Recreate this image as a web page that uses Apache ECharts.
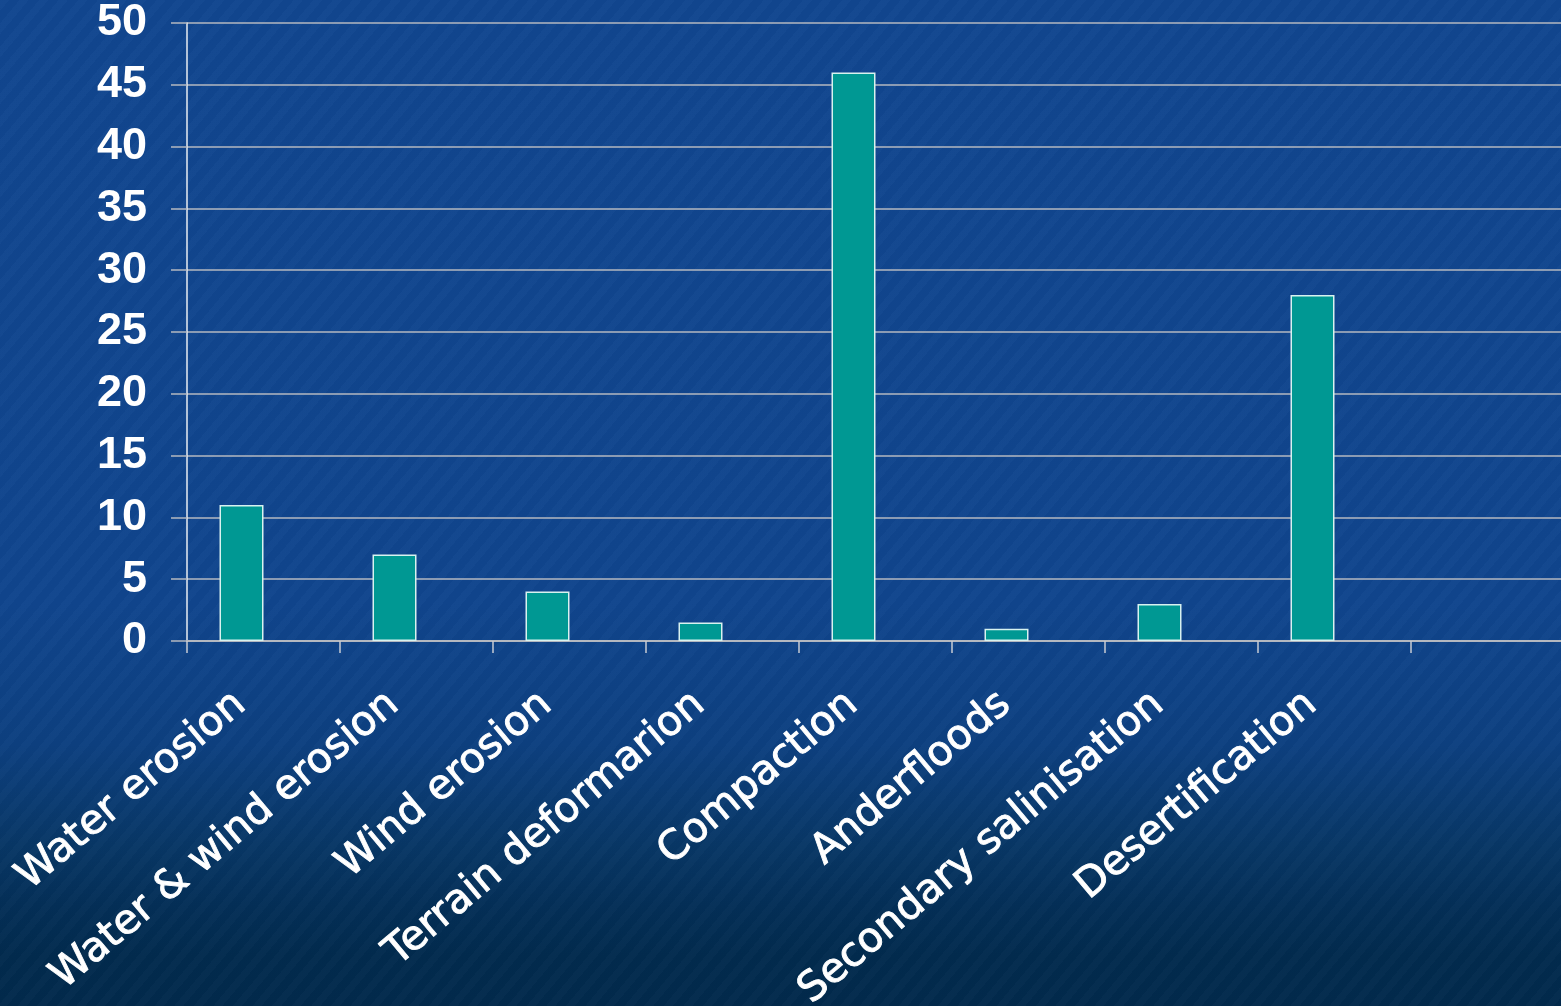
<!DOCTYPE html>
<html>
<head>
<meta charset="utf-8">
<script src="https://cdn.jsdelivr.net/npm/echarts@6/dist/echarts.min.js"></script>
<style>
  html, body { margin: 0; padding: 0; width: 1561px; height: 1006px; overflow: hidden; }
  body {
    background:
      repeating-linear-gradient(130deg, rgba(255,255,255,0.015) 0px, rgba(255,255,255,0.015) 7px, rgba(0,0,0,0.015) 7px, rgba(0,0,0,0.015) 15px),
      linear-gradient(to bottom, #11468f 0%, #10458d 60%, #0d4080 74%, #083766 84%, #042f57 90%, #022b4e 95%, #022a4c 100%);
  }
  #chart { width: 1561px; height: 1006px; }
</style>
</head>
<body>
<div id="chart"></div>
<script>
// Soil degradation types and their shares
const categories = [
  'Water erosion', 'Water & wind erosion', 'Wind erosion', 'Terrain deformarion',
  'Compaction', 'Anderfloods', 'Secondary salinisation', 'Desertification', ''
];
const values = [11, 7, 4, 1.5, 46, 1, 3, 28, null];
const yTicks = [0, 5, 10, 15, 20, 25, 30, 35, 40, 45, 50];

const chart = echarts.init(document.getElementById('chart'), null, { renderer: 'canvas' });

chart.setOption({
  backgroundColor: 'transparent',
  animation: false,
  grid: { left: 187, right: -3, top: 23, bottom: 365, containLabel: false, outerBoundsMode: 'none' },
  xAxis: {
    type: 'category',
    data: categories,
    boundaryGap: true,
    axisLine: { show: true, lineStyle: { color: '#b4b8c0', width: 2 } },
    axisTick: { show: true, alignWithLabel: false, length: 12, lineStyle: { color: '#c8ccd4', width: 1.5 } },
    axisLabel: {
      interval: 0,
      rotate: 40,
      margin: 39,
      padding: [0, 30, 0, 0],
      color: '#ffffff',
      fontFamily: 'DejaVu Sans',
      fontSize: 41,
      textBorderColor: '#ffffff',
      textBorderWidth: 0.9
    }
  },
  yAxis: {
    type: 'value',
    min: yTicks[0],
    max: yTicks[yTicks.length - 1],
    interval: 5,
    axisLine: { show: true, lineStyle: { color: '#e8ecf2', width: 1.5 } },
    axisTick: { show: true, inside: false, length: 16, lineStyle: { color: '#b4b8c0', width: 1.5 } },
    splitLine: { show: true, lineStyle: { color: '#b4b8c0', width: 1.5 } },
    axisLabel: {
      margin: 40,
      color: '#ffffff',
      fontFamily: 'Liberation Sans',
      fontWeight: 'bold',
      fontSize: 45
    }
  },
  series: [
    {
      type: 'bar',
      data: values,
      barWidth: 44,
      barGap: '0%',
      itemStyle: { color: '#009893', borderColor: '#d8f2f0', borderWidth: 1.5 },
      z: 3
    },
    {
      type: 'bar',
      data: [],
      barWidth: 44,
      barGap: '0%'
    }
  ]
});
</script>
</body>
</html>
